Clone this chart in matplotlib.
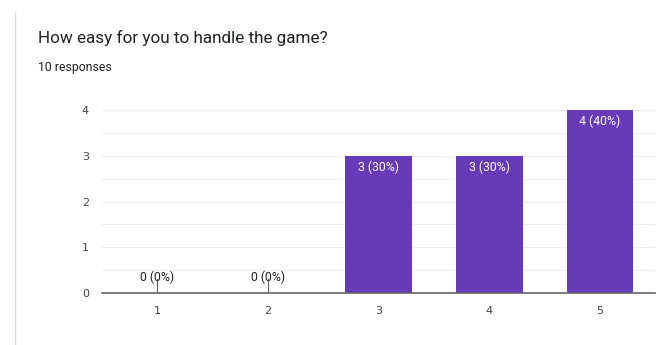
import matplotlib.pyplot as plt
from matplotlib.lines import Line2D

categorias = ["1", "2", "3", "4", "5"]
respuestas = [0, 0, 3, 3, 4]
etiquetas = ["0 (0%)", "0 (0%)", "3 (30%)", "3 (30%)", "4 (40%)"]

fig = plt.figure(figsize=(6.59, 3.45), dpi=100)
ax = fig.add_axes([101.5 / 659, 1 - 293 / 345, 554 / 659, 183 / 345])

# borde de la tarjeta
fig.add_artist(Line2D([15 / 659, 15 / 659], [0, 1 - 12 / 345], color="#dadce0", lw=1))

fig.text(38 / 659, 1 - 38 / 345, "How easy for you to handle the game?",
         fontsize=12.3, color="#202124", va="center", family="Roboto")
fig.text(38 / 659, 1 - 68 / 345, "10 responses", fontsize=8.8,
         color="#202124", va="center", family="Roboto")

x = list(range(1, len(categorias) + 1))
ax.bar(x, respuestas, width=0.6, color="#673ab7", zorder=3)

for xi, v, t in zip(x, respuestas, etiquetas):
    if v > 0:
        ax.text(xi, v - 0.1, t, ha="center", va="top", color="white",
                fontsize=8.8, family="Roboto", zorder=4)
    else:
        ax.plot([xi, xi], [0, 0.3], color="#5f6368", lw=0.8, zorder=4)
        ax.text(xi, 0.2, t, ha="center", va="bottom", color="#202124",
                fontsize=8.8, family="Roboto", zorder=4)

ax.set_xlim(0.5, 5.5)
ax.set_ylim(0, 4)
ax.set_xticks(x)
ax.set_xticklabels(categorias)
ax.set_yticks([0, 1, 2, 3, 4])
ax.set_yticks([0.5, 1.5, 2.5, 3.5], minor=True)
ax.grid(axis="y", which="both", color="#eeeeee", lw=0.8, zorder=0)
ax.tick_params(axis="both", length=0, labelsize=8, labelcolor="#444444", pad=9)
ax.tick_params(axis="y", which="minor", length=0)
for s in ["top", "right", "left"]:
    ax.spines[s].set_visible(False)
ax.spines["bottom"].set_color("#5f6368")
ax.spines["bottom"].set_linewidth(1.2)
ax.spines["bottom"].set_zorder(5)

fig.savefig("out.png", dpi=100)
